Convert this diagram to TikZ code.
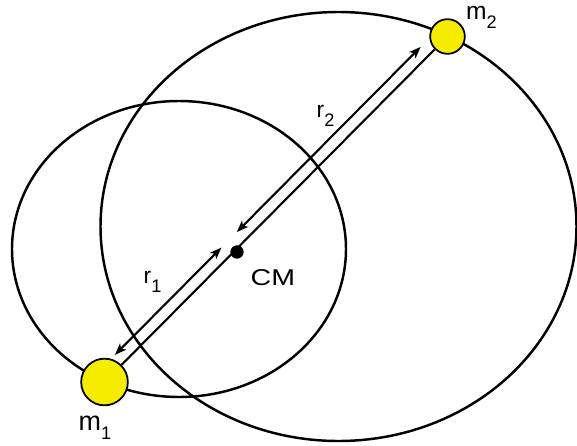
\documentclass[tikz,border=0pt]{standalone}
\usepackage{fontspec}
\setmainfont{Liberation Sans}
\usetikzlibrary{arrows.meta, calc}
\definecolor{massyellow}{RGB}{245,236,0}
\tikzset{
  orbit/.style = {draw, line width=2.1pt},
  mass/.style  = {circle, draw, fill=massyellow, line width=1.5pt, inner sep=0pt},
  dot/.style   = {circle, fill=black, inner sep=0pt, minimum size=0.4cm},
  sep/.style   = {<->, >={Stealth[length=10pt, width=7.5pt, inset=2.5pt]}, line width=1.8pt},
  lbl/.style   = {anchor=base west, inner sep=0pt, font=\fontsize{19.5}{19.5}\selectfont},
}
\newcommand{\lsub}[1]{\raisebox{-8pt}{\fontsize{15.5}{15.5}\selectfont #1}}

\begin{document}
\begin{tikzpicture}[x=0.03cm, y=0.03cm]
\useasboundingbox (0,0) rectangle (577,-446);

% orbits
\draw[orbit] (179,-249) ellipse [x radius=167, y radius=148];
\draw[orbit] (338.5,-226.5) ellipse [x radius=238, y radius=214.5];

% the two masses and the centre of mass
\node[mass, minimum size=1.4cm]  (mone) at (104.5,-382) {};
\node[mass, minimum size=1.04cm] (mtwo) at (447.5,-36.5) {};
\node[dot] (cm) at (237,-252) {};

\draw[line width=1.8pt] (mone) -- (mtwo);

% distances from CM
\coordinate (rones) at ($(mone.center)!0.0544!(mtwo.center) + (-8.3,8.3)$);
\coordinate (ronee) at ($(mone.center)!0.365!(mtwo.center) + (-8.3,8.3)$);
\coordinate (rtwos) at ($(mone.center)!0.410!(mtwo.center) + (-8.3,8.3)$);
\coordinate (rtwoe) at ($(mone.center)!0.946!(mtwo.center) + (-8.3,8.3)$);
\draw[sep] (rones) -- (ronee);
\draw[sep] (rtwos) -- (rtwoe);

% labels
\node[lbl, font=\fontsize{23}{23}\selectfont] (lone) at (78.5,-430) {m\lsub{1}};
\node[lbl, font=\fontsize{21}{21}\selectfont, text height=1.2ex] (ltwo) at (466,-19) {m\lsub{2}};
\node[lbl] (rlone) at (143.5,-283.5) {r\lsub{1}};
\node[lbl] (rltwo) at (316.5,-117) {r\lsub{2}};
\node[lbl] (lcm) at (250.5,-285) {\scalebox{1.25}[1]{CM}};

\end{tikzpicture}
\end{document}
